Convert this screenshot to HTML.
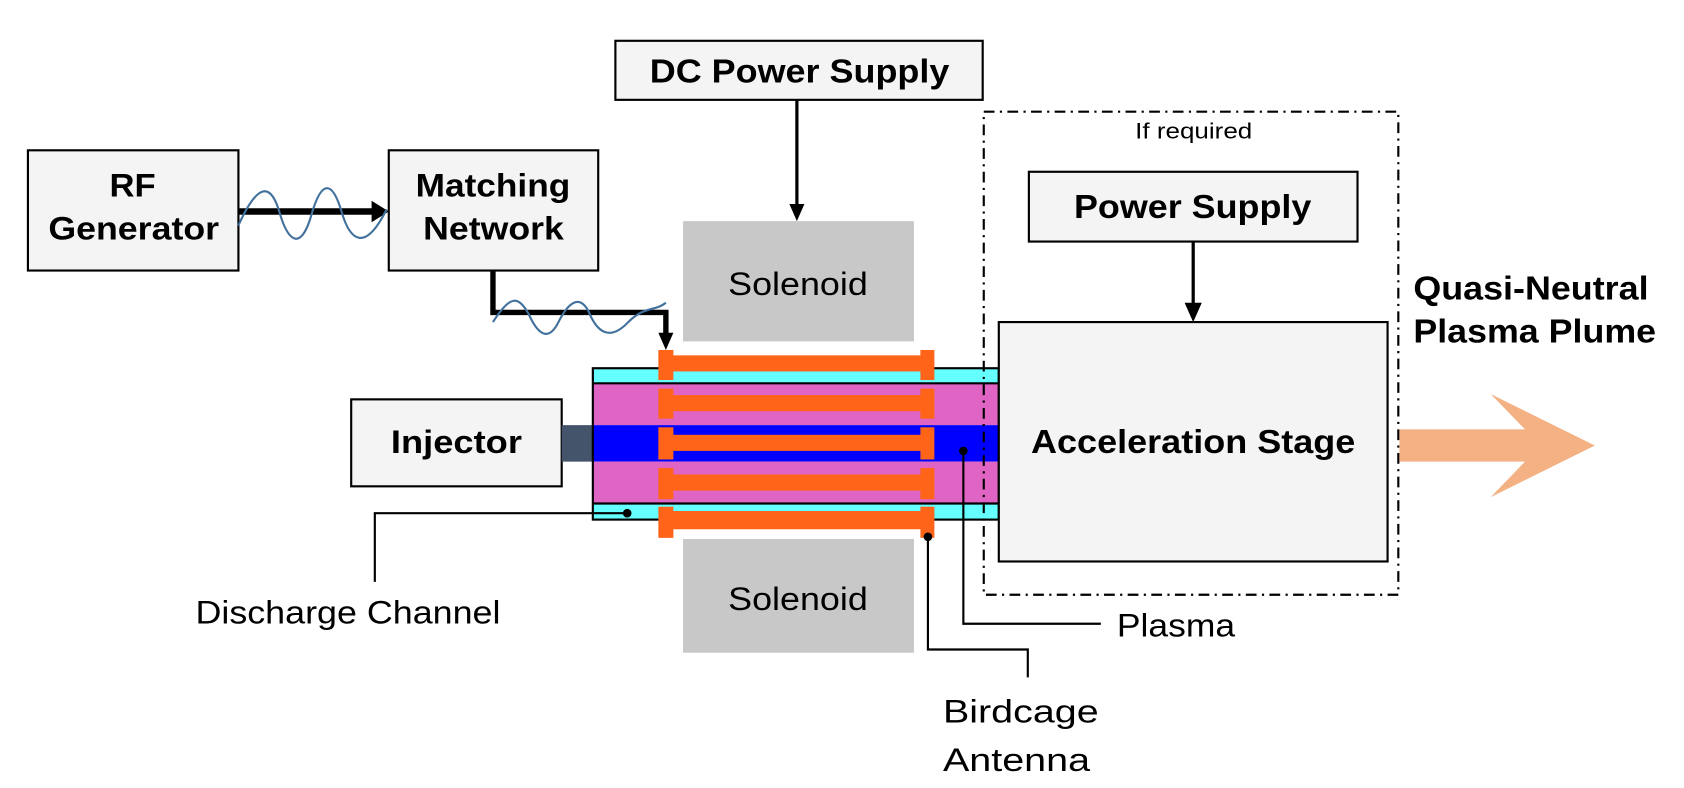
<!DOCTYPE html>
<html><head><meta charset="utf-8"><style>
html,body{margin:0;padding:0;background:#fff;}
svg{display:block;}
text{font-family:"Liberation Sans",Arial,sans-serif;}
.b{font-weight:bold;}
</style></head><body>
<svg width="1684" height="788" viewBox="0 0 1568 734" preserveAspectRatio="none" xmlns="http://www.w3.org/2000/svg">
<!-- RF Generator -->
<rect x="26" y="140" width="196" height="112" fill="#f4f4f4" stroke="#000" stroke-width="2"/>
<text x="102" y="183" font-size="30" class="b" textLength="43" lengthAdjust="spacingAndGlyphs">RF</text>
<text x="45" y="223" font-size="30" class="b" textLength="159" lengthAdjust="spacingAndGlyphs">Generator</text>
<!-- Matching Network -->
<rect x="362" y="140" width="195" height="112" fill="#f4f4f4" stroke="#000" stroke-width="2"/>
<text x="387" y="183" font-size="30" class="b" textLength="144" lengthAdjust="spacingAndGlyphs">Matching</text>
<text x="394" y="223" font-size="30" class="b" textLength="131" lengthAdjust="spacingAndGlyphs">Network</text>
<!-- RF to MN arrow -->
<line x1="222" y1="197" x2="348" y2="197" stroke="#000" stroke-width="6"/>
<polygon points="346,187 362,197 346,207" fill="#000"/>
<path d="M222,210 C240,170 252,170 260,197 C268,225 280,235 290,200 C300,165 310,170 318,197 C326,225 340,235 360,195" fill="none" stroke="#41719c" stroke-width="2"/>
<!-- DC Power Supply -->
<rect x="573" y="38" width="342" height="55" fill="#f4f4f4" stroke="#000" stroke-width="2"/>
<text x="605" y="77" font-size="31" class="b" textLength="279" lengthAdjust="spacingAndGlyphs">DC Power Supply</text>
<line x1="742" y1="93" x2="742" y2="192" stroke="#000" stroke-width="3"/>
<polygon points="735,190 749,190 742,206" fill="#000"/>
<!-- Solenoids -->
<rect x="636" y="206" width="215" height="112" fill="#c8c8c8"/>
<text x="678" y="275" font-size="30" textLength="130" lengthAdjust="spacingAndGlyphs">Solenoid</text>
<rect x="636" y="502" width="215" height="106" fill="#c8c8c8"/>
<text x="678" y="568" font-size="30" textLength="130" lengthAdjust="spacingAndGlyphs">Solenoid</text>
<!-- MN to antenna -->
<polyline points="459,252 459,291 620,291 620,312" fill="none" stroke="#000" stroke-width="5"/>
<polygon points="613,310 627,310 620,326" fill="#000"/>
<path d="M459,300 C475,275 482,275 492,292 C500,310 510,320 520,300 C530,280 540,275 548,290 C556,310 568,318 585,300 C600,285 610,290 620,282" fill="none" stroke="#41719c" stroke-width="2"/>
<!-- Injector -->
<rect x="327" y="372" width="196" height="81" fill="#f4f4f4" stroke="#000" stroke-width="2"/>
<text x="364" y="422" font-size="30" class="b" textLength="122" lengthAdjust="spacingAndGlyphs">Injector</text>
<rect x="523" y="396" width="29" height="34" fill="#44546a"/>
<!-- Discharge channel -->
<rect x="552" y="343" width="378" height="14" fill="#66ffff"/>
<rect x="552" y="357" width="378" height="39" fill="#e064c4"/>
<rect x="552" y="396" width="378" height="34" fill="#0000ff"/>
<rect x="552" y="430" width="378" height="39" fill="#e064c4"/>
<rect x="552" y="469" width="378" height="15" fill="#66ffff"/>
<rect x="552" y="343" width="378" height="141" fill="none" stroke="#000" stroke-width="2"/>
<line x1="552" y1="357" x2="930" y2="357" stroke="#000" stroke-width="2"/>
<line x1="552" y1="469" x2="930" y2="469" stroke="#000" stroke-width="2"/>
<!-- Orange rods -->
<g fill="#ff6418">
<rect x="620" y="331" width="242" height="15"/><rect x="613" y="326" width="14" height="28"/><rect x="857" y="326" width="13" height="28"/>
<rect x="620" y="368" width="242" height="15"/><rect x="613" y="362" width="14" height="28"/><rect x="857" y="362" width="13" height="28"/>
<rect x="620" y="405" width="242" height="15"/><rect x="613" y="398" width="14" height="30"/><rect x="857" y="398" width="13" height="30"/>
<rect x="620" y="442" width="242" height="15"/><rect x="613" y="436" width="14" height="29"/><rect x="857" y="436" width="13" height="29"/>
<rect x="620" y="476" width="242" height="17"/><rect x="613" y="472" width="14" height="29"/><rect x="857" y="472" width="13" height="29"/>
</g>
<!-- Annotations -->
<polyline points="584,478 349,478 349,542" fill="none" stroke="#000" stroke-width="2"/>
<circle cx="584" cy="478" r="4" fill="#000"/>
<text x="182" y="581" font-size="30" textLength="284" lengthAdjust="spacingAndGlyphs">Discharge Channel</text>
<polyline points="897,420 897,581 1025,581" fill="none" stroke="#000" stroke-width="2"/>
<circle cx="897" cy="420" r="4" fill="#000"/>
<text x="1040" y="593" font-size="30" textLength="110" lengthAdjust="spacingAndGlyphs">Plasma</text>
<polyline points="864,500 864,605 957,605 957,631" fill="none" stroke="#000" stroke-width="2"/>
<circle cx="864" cy="500" r="4" fill="#000"/>
<text x="878" y="673" font-size="30" textLength="145" lengthAdjust="spacingAndGlyphs">Birdcage</text>
<text x="878" y="718" font-size="30" textLength="137" lengthAdjust="spacingAndGlyphs">Antenna</text>
<!-- If required box -->
<rect x="916" y="104" width="386" height="450" fill="none" stroke="#000" stroke-width="2" stroke-dasharray="10,5,2,5"/>
<text x="1057" y="129" font-size="21" textLength="109" lengthAdjust="spacingAndGlyphs">If required</text>
<rect x="958" y="160" width="306" height="65" fill="#f4f4f4" stroke="#000" stroke-width="2"/>
<text x="1000" y="203" font-size="31" class="b" textLength="221" lengthAdjust="spacingAndGlyphs">Power Supply</text>
<line x1="1111" y1="225" x2="1111" y2="284" stroke="#000" stroke-width="3"/>
<polygon points="1103,282 1119,282 1111,300" fill="#000"/>
<rect x="930" y="300" width="362" height="223" fill="#f4f4f4" stroke="#000" stroke-width="2"/>
<text x="960" y="422" font-size="31" class="b" textLength="302" lengthAdjust="spacingAndGlyphs">Acceleration Stage</text>
<!-- Plume -->
<text x="1316" y="279" font-size="31" class="b" textLength="219" lengthAdjust="spacingAndGlyphs">Quasi-Neutral</text>
<text x="1316" y="319" font-size="31" class="b" textLength="226" lengthAdjust="spacingAndGlyphs">Plasma Plume</text>
<polygon points="1303,400 1420,400 1388,367 1485,415 1388,463 1420,430 1303,430" fill="#f4b183"/>
</svg>
</body></html>
